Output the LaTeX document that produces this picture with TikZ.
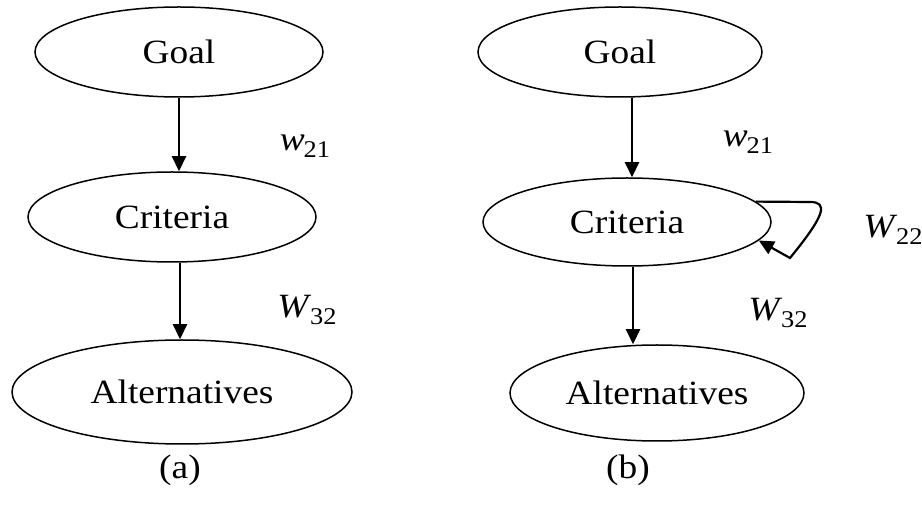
\documentclass[tikz,border=0pt]{standalone}
\usepackage{fontspec}
\setmainfont{Liberation Serif}
\usepackage{graphicx}
\usetikzlibrary{arrows.meta,shapes.geometric}

\newcommand{\wtext}[1]{\scalebox{1.1}[1]{#1}}
\newcommand{\lbl}[2]{\wtext{\textit{#1}\kern-1pt\raisebox{-0.2em}{\fontsize{24}{28}\selectfont #2}}}

\tikzset{
  level/.style={ellipse,draw,line width=1.5pt,inner sep=0pt,font=\fontsize{34}{40}\selectfont},
  link/.style={line width=2.2pt,-{Triangle[length=15pt,width=14pt]}},
  tag/.style={inner sep=0pt,font=\fontsize{34}{40}\selectfont}
}

\begin{document}
\begin{tikzpicture}[x=1pt,y=1pt,yscale=-1,xscale=1]
\useasboundingbox (0,0) rectangle (922,510);

% (a)
\node (goala) [level,minimum width=288pt,minimum height=90pt] at (179,52) {\wtext{Goal}};
\node (crita) [level,minimum width=288pt,minimum height=90pt] at (172,217) {\wtext{Criteria}};
\node (alta) [level,minimum width=340pt,minimum height=104pt] at (182,392) {\wtext{Alternatives}};
\draw [link] (goala.south -| 179,0) -- (crita.north -| 179,0);
\draw [link] (crita.south -| 180,0) -- (alta.north -| 180,0);
\node (wa1) [tag] at (305,146) {\lbl{w}{21}};
\node (wa2) [tag] at (307,310) {\lbl{W}{32}};
\node (capa) [tag] at (180,470) {\wtext{(a)}};

% (b)
\node (goalb) [level,minimum width=284pt,minimum height=90pt] at (620,52) {\wtext{Goal}};
\node (critb) [level,minimum width=288pt,minimum height=88pt] at (627,222) {\wtext{Criteria}};
\node (altb) [level,minimum width=294pt,minimum height=96pt] at (657,393) {\wtext{Alternatives}};
\draw [link] (goalb.south -| 632,0) -- (critb.north -| 632,0);
\draw [link] (critb.south -| 633,0) -- (altb.north -| 633,0);
\draw [link] (critb.9) -- (810,202) .. controls (828,202) and (826,214) .. (790,258) -- (critb.-8);
\node (wb1) [tag] at (748,142) {\lbl{w}{21}};
\node (wb2) [tag] at (893,230) {\lbl{W}{22}};
\node (wb3) [tag] at (778,313) {\lbl{W}{32}};
\node (capb) [tag] at (628,470) {\wtext{(b)}};

\end{tikzpicture}
\end{document}
